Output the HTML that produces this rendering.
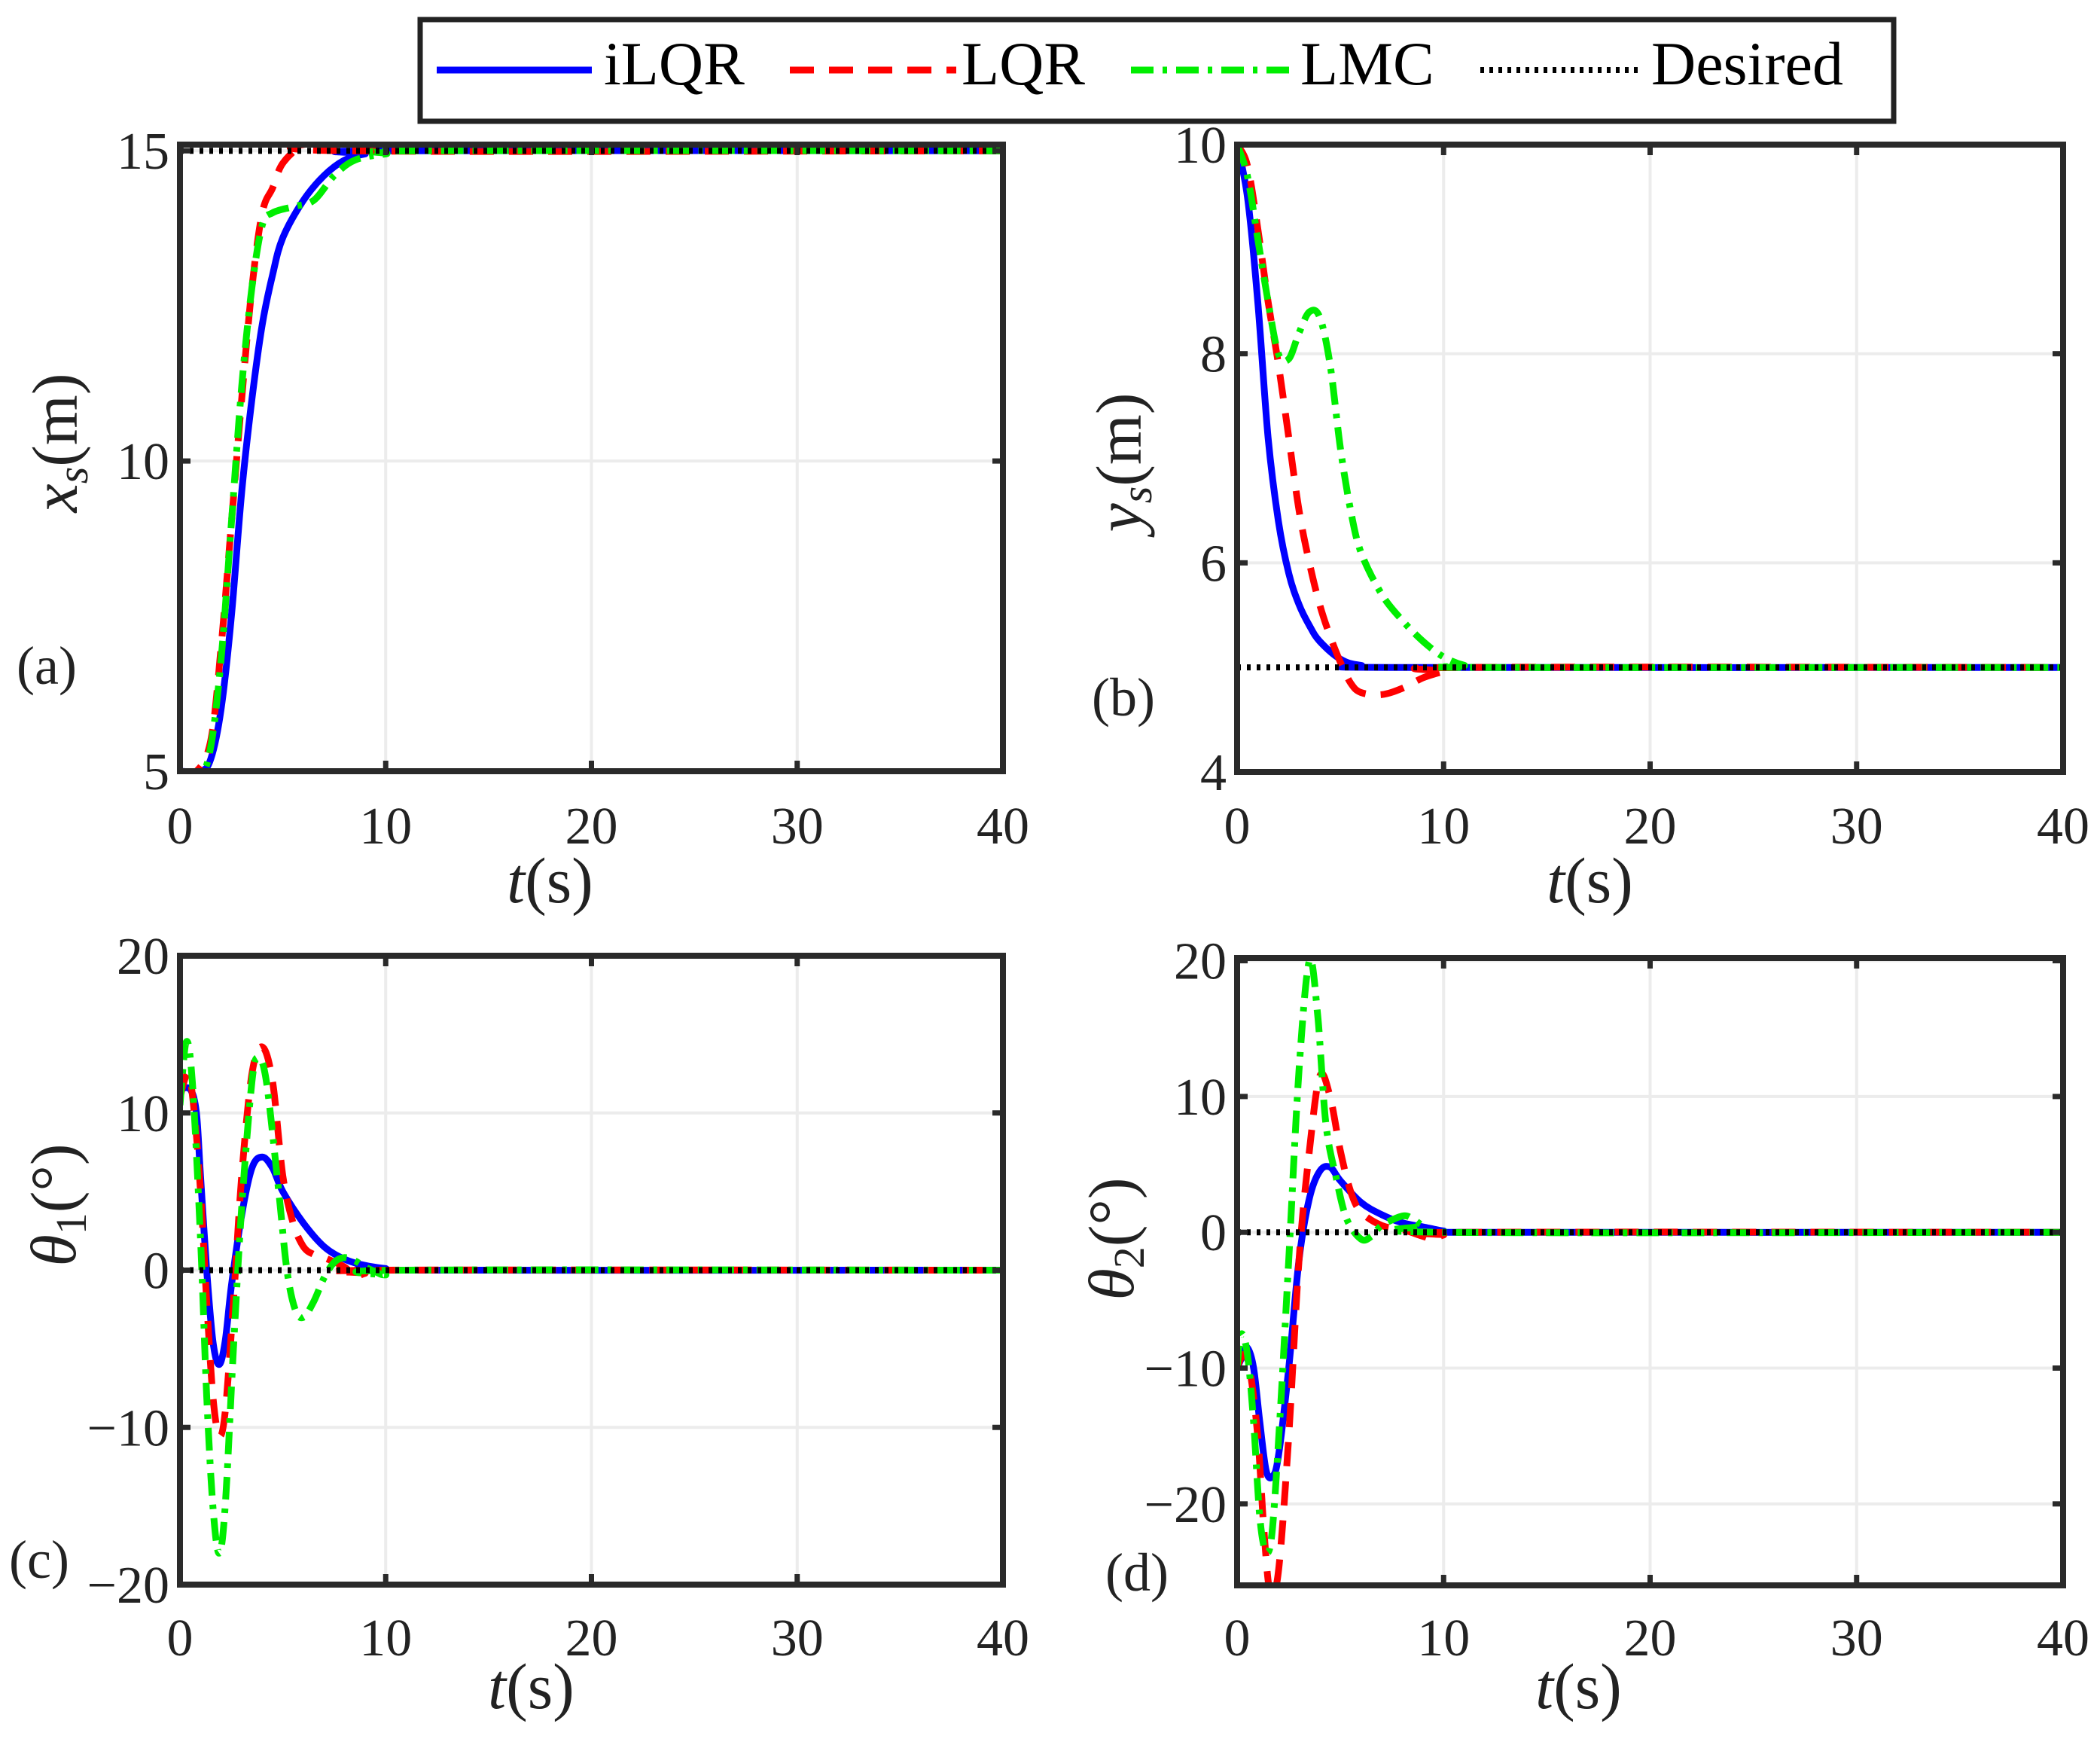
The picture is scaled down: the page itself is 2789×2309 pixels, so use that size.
<!DOCTYPE html>
<html><head><meta charset="utf-8">
<style>
html,body{margin:0;padding:0;background:#fff;}
svg{display:block;font-family:"Liberation Serif",serif;}
</style></head>
<body>
<svg id="fig" width="2789" height="2309" viewBox="0 0 2789 2309">
<g id="legend">
  <rect x="558" y="26" width="1957" height="135" fill="#fff" stroke="#222" stroke-width="7"/>
  <g>
    <line x1="580" y1="93" x2="786" y2="93" stroke="#0000ff" stroke-width="9"/>
    <text x="802" y="112" font-size="82">iLQR</text>
  </g>
  <g>
    <line x1="1049" y1="93" x2="1270" y2="93" stroke="#ff0000" stroke-width="9" stroke-dasharray="32,20"/>
    <text x="1277" y="112" font-size="82">LQR</text>
  </g>
  <g>
    <line x1="1502" y1="93" x2="1715" y2="93" stroke="#00ee00" stroke-width="9" stroke-dasharray="30,12,6,12"/>
    <text x="1727" y="112" font-size="82">LMC</text>
  </g>
  <g>
    <line x1="1966" y1="93" x2="2182" y2="93" stroke="#000" stroke-width="8" stroke-dasharray="5,7"/>
    <text x="2193" y="112" font-size="82">Desired</text>
  </g>
</g>
</svg>
<script>
// ---- Panel (a) x_s ----
const aTicksY = [5, 10, 15];
const aIlqrT = [0,1,1.5,2,2.5,3,3.5,4,4.5,5,6,7,8,9,10,40];
const aIlqrV = [5,5.0,5.2,6.0,7.5,9.5,11.0,12.2,13.0,13.6,14.2,14.6,14.85,14.95,15,15];
const aLqrT = [0,0.8,1.5,2,2.5,3,3.5,4,4.5,5,6,7,8,40];
const aLqrV = [5,5,5.5,7,9,11,12.8,14.0,14.4,14.8,15.1,15.15,15.0,15];
const aLmcT = [0,1,1.5,2,2.5,3,3.5,4,4.5,5.5,6.5,7.5,8.5,10,12,40];
const aLmcV = [5,4.95,5.4,6.8,9,11.2,12.8,13.8,14.0,14.1,14.2,14.6,14.85,14.95,15,15];
const aDesired = 15;
// ---- Panel (b) y_s ----
const bTicksY = [4, 6, 8, 10];
const bIlqrT = [0,0.5,1,1.5,2,2.5,3,3.5,4,5,6,8,40];
const bIlqrV = [10,9.5,8.5,7.2,6.4,5.9,5.6,5.4,5.25,5.08,5.02,5.0,5];
const bLqrT = [0,0.5,1,1.5,2,2.5,3,3.5,4,4.5,5,5.5,6,7,8,9,10,11,40];
const bLqrV = [10,9.8,9.2,8.5,7.9,7.2,6.5,6.0,5.6,5.3,5.05,4.85,4.76,4.74,4.8,4.9,4.96,5.0,5];
const bLmcT = [0,0.5,1,1.5,2,2.5,3,3.5,4,4.5,5,5.5,6,7,8,9,10,11,12,40];
const bLmcV = [10,9.7,9.1,8.5,8.0,7.95,8.2,8.4,8.35,7.9,7.1,6.5,6.1,5.7,5.45,5.25,5.1,5.02,5.0,5];
const bDesired = 5;
// ---- Panel (c) theta1 ----
const cTicksY = [-20, -10, 0, 10, 20];
const cIlqrT = [0,0.5,0.8,1,1.3,1.6,1.9,2.2,2.5,3,3.5,4,4.5,5,6,7,8,9,10,11,40];
const cIlqrV = [11.5,11.5,10,6,0,-4.5,-6,-4.5,-1,3.5,6.5,7.2,6.5,5,3,1.5,0.7,0.3,0.1,0,0];
const cLqrT = [0,0.4,0.7,1,1.3,1.6,1.9,2.2,2.6,3,3.5,4,4.5,5,5.5,6,6.5,7,8,8.5,9,10,40];
const cLqrV = [11,12.5,10,5,-2,-8,-10.5,-9,-2,6,12.5,14.2,12,6,3,1.5,1,0.8,0.2,-0.4,-0.2,0,0];
const cLmcT = [0,0.3,0.6,1,1.3,1.6,1.9,2.2,2.6,3,3.5,3.8,4.2,4.8,5.2,5.6,6,6.5,7,7.5,8,8.5,9,9.5,10,11,40];
const cLmcV = [10.5,14.5,12,2,-8,-15,-18,-15,-5,4,12,13.5,12,5,0,-2.5,-3,-2,-0.5,0.5,0.8,0.6,0.2,-0.1,-0.3,0,0];
const cDesired = 0;
// ---- Panel (d) theta2 ----
const dTicksY = [-20, -10, 0, 10, 20];
const dIlqrT = [0,0.3,0.5,0.8,1.1,1.4,1.7,2,2.5,3,3.5,4,4.5,5,6,7,8,9,10,11,40];
const dIlqrV = [-10,-9,-8.5,-10,-14,-17.5,-18,-16.5,-10,-2,2.5,4.5,4.8,3.8,2.2,1.3,0.7,0.4,0.1,0,0];
const dLqrT = [0,0.3,0.6,1,1.3,1.6,2,2.5,3,3.5,4,4.5,5,5.5,6,7,8,9,9.5,10,11,40];
const dLqrV = [-10,-9,-10,-15,-22,-26.5,-25,-15,-2,6,11.5,10,6,3,1.5,0.5,0.2,-0.3,-0.5,-0.2,0,0];
const dLmcT = [0,0.2,0.5,0.8,1.1,1.4,1.7,2.1,2.5,3,3.5,3.9,4.3,4.8,5.3,6,6.5,7,8,8.5,9,10,40];
const dLmcV = [-10,-7.5,-9,-14,-21,-23.5,-22,-13,-2,12,20,16,8,4,1,-0.5,-0.3,0.5,1.2,1,0.5,0,0];
const dDesired = 0;
const xTicks = [0, 10, 20, 30, 40];

const NS = "http://www.w3.org/2000/svg";
const svg = document.getElementById("fig");
function mk(tag, attrs, parent){const e=document.createElementNS(NS,tag);for(const k in attrs)e.setAttribute(k,attrs[k]);(parent||svg).appendChild(e);return e;}

function smoothPath(pts){
  let d = "M"+pts[0][0].toFixed(1)+","+pts[0][1].toFixed(1);
  for(let i=0;i<pts.length-1;i++){
    const p0=pts[Math.max(0,i-1)],p1=pts[i],p2=pts[i+1],p3=pts[Math.min(pts.length-1,i+2)];
    const c1=[p1[0]+(p2[0]-p0[0])/6,p1[1]+(p2[1]-p0[1])/6];
    const c2=[p2[0]-(p3[0]-p1[0])/6,p2[1]-(p3[1]-p1[1])/6];
    d+=" C"+c1[0].toFixed(1)+","+c1[1].toFixed(1)+" "+c2[0].toFixed(1)+","+c2[1].toFixed(1)+" "+p2[0].toFixed(1)+","+p2[1].toFixed(1);
  }
  return d;
}

function panel(cfg){
  const {id,L,R,T,B,ymin,ymax,yTicks,series,desired,ylabel,letter,letterPos,ylabPos,xlabY,xlabDx,tickY} = cfg;
  const g = mk("g",{});
  
  
  const xs = t => L + (t-0)/(40-0)*(R-L);
  const ys = v => B - (v-ymin)/(ymax-ymin)*(B-T);
  xTicks.forEach(t=>{ if(t>0&&t<40){ const l=mk("line",{x1:xs(t),x2:xs(t),y1:T,y2:B,stroke:"#ececec","stroke-width":4},g);
    
     }});
  yTicks.forEach(v=>{ const y=ys(v); if(y>T+3&&y<B-3){ const l=mk("line",{x1:L,x2:R,y1:y,y2:y,stroke:"#ececec","stroke-width":4},g);
    
     }});
  const cp = mk("clipPath",{id:"clip-"+id},g);
  mk("rect",{x:L,y:T,width:R-L,height:B-T},cp);
  const sg = mk("g",{"clip-path":"url(#clip-"+id+")"},g);
  const styles = {
    ilqr:{stroke:"#0000ff",dash:"none"},
    lqr:{stroke:"#ff0000",dash:"32,20"},
    lmc:{stroke:"#00ee00",dash:"30,12,6,12"}
  };
  series.forEach(s=>{
    const pts = s.t.map((t,i)=>[xs(t),ys(s.v[i])]);
    const p = mk("path",{d:smoothPath(pts),fill:"none",stroke:styles[s.k].stroke,"stroke-width":9,"stroke-dasharray":styles[s.k].dash,"stroke-linejoin":"round"},sg);
    
    
  });
  const dl = mk("line",{x1:L,x2:R,y1:ys(desired),y2:ys(desired),stroke:"#000","stroke-width":8,"stroke-dasharray":"5,8"},sg);
  
  
  const box = mk("rect",{x:L,y:T,width:R-L,height:B-T,fill:"none",stroke:"#2a2a2a","stroke-width":8},g);
  
  
  xTicks.forEach(t=>{
    mk("line",{x1:xs(t),x2:xs(t),y1:B,y2:B-14,stroke:"#2a2a2a","stroke-width":7},g);
    mk("line",{x1:xs(t),x2:xs(t),y1:T,y2:T+14,stroke:"#2a2a2a","stroke-width":7},g);
    const tx = mk("text",{x:xs(t),y:tickY,"font-size":70,"text-anchor":"middle",fill:"#222"},g);
    tx.textContent = t;
    
    
  });
  yTicks.forEach(v=>{
    const y=ys(v);
    mk("line",{x1:L,x2:L+14,y1:y,y2:y,stroke:"#2a2a2a","stroke-width":7},g);
    mk("line",{x1:R,x2:R-14,y1:y,y2:y,stroke:"#2a2a2a","stroke-width":7},g);
    const tx = mk("text",{x:L-14,y:y+24,"font-size":70,"text-anchor":"end",fill:"#222"},g);
    tx.textContent = v<0 ? "\u2212"+Math.abs(v) : v;
    
    
  });
  const xl = mk("text",{x:(L+R)/2+xlabDx,y:xlabY,"font-size":86,"text-anchor":"middle",fill:"#222"},g);
  xl.innerHTML = '<tspan font-style="italic">t</tspan>(s)';
  
  
  const yl = mk("text",{x:0,y:0,"font-size":86,"text-anchor":"middle",fill:"#222",transform:"translate("+ylabPos[0]+","+ylabPos[1]+") rotate(-90)"},g);
  yl.innerHTML = ylabel;
  
  
  const lt = mk("text",{x:letterPos[0],y:letterPos[1],"font-size":72,"text-anchor":"middle",fill:"#222"},g);
  lt.textContent = letter;
  
  
}

panel({id:"a",L:239,R:1332,T:192,B:1024,ymin:5,ymax:15.1,yTicks:aTicksY,desired:aDesired,
  series:[{k:"ilqr",t:aIlqrT,v:aIlqrV},{k:"lqr",t:aLqrT,v:aLqrV},{k:"lmc",t:aLmcT,v:aLmcV}],
  ylabel:'<tspan font-style="italic">x</tspan><tspan font-style="italic" font-size="58" dy="14">s</tspan><tspan dy="-14">(m)</tspan>',
  letter:"(a)",letterPos:[62,908],ylabPos:[102,588],xlabY:1198,xlabDx:-55,tickY:1120});
panel({id:"b",L:1643,R:2740,T:192,B:1025,ymin:4,ymax:10,yTicks:bTicksY,desired:bDesired,
  series:[{k:"ilqr",t:bIlqrT,v:bIlqrV},{k:"lqr",t:bLqrT,v:bLqrV},{k:"lmc",t:bLmcT,v:bLmcV}],
  ylabel:'<tspan font-style="italic">y</tspan><tspan font-style="italic" font-size="58" dy="14">s</tspan><tspan dy="-14">(m)</tspan>',
  letter:"(b)",letterPos:[1492,950],ylabPos:[1515,614],xlabY:1198,xlabDx:-80,tickY:1120});
panel({id:"c",L:239,R:1332,T:1269,B:2104,ymin:-20,ymax:20,yTicks:cTicksY,desired:cDesired,
  series:[{k:"ilqr",t:cIlqrT,v:cIlqrV},{k:"lqr",t:cLqrT,v:cLqrV},{k:"lmc",t:cLmcT,v:cLmcV}],
  ylabel:'<tspan font-style="italic">θ</tspan><tspan font-size="58" dy="14">1</tspan><tspan dy="-14">(°)</tspan>',
  letter:"(c)",letterPos:[52,2095],ylabPos:[100,1600],xlabY:2268,xlabDx:-80,tickY:2198});
panel({id:"d",L:1643,R:2740,T:1272,B:2105,ymin:-26,ymax:20.2,yTicks:dTicksY,desired:dDesired,
  series:[{k:"ilqr",t:dIlqrT,v:dIlqrV},{k:"lqr",t:dLqrT,v:dLqrV},{k:"lmc",t:dLmcT,v:dLmcV}],
  ylabel:'<tspan font-style="italic">θ</tspan><tspan font-size="58" dy="14">2</tspan><tspan dy="-14">(°)</tspan>',
  letter:"(d)",letterPos:[1510,2112],ylabPos:[1505,1645],xlabY:2268,xlabDx:-95,tickY:2198});
</script>
</body></html>
